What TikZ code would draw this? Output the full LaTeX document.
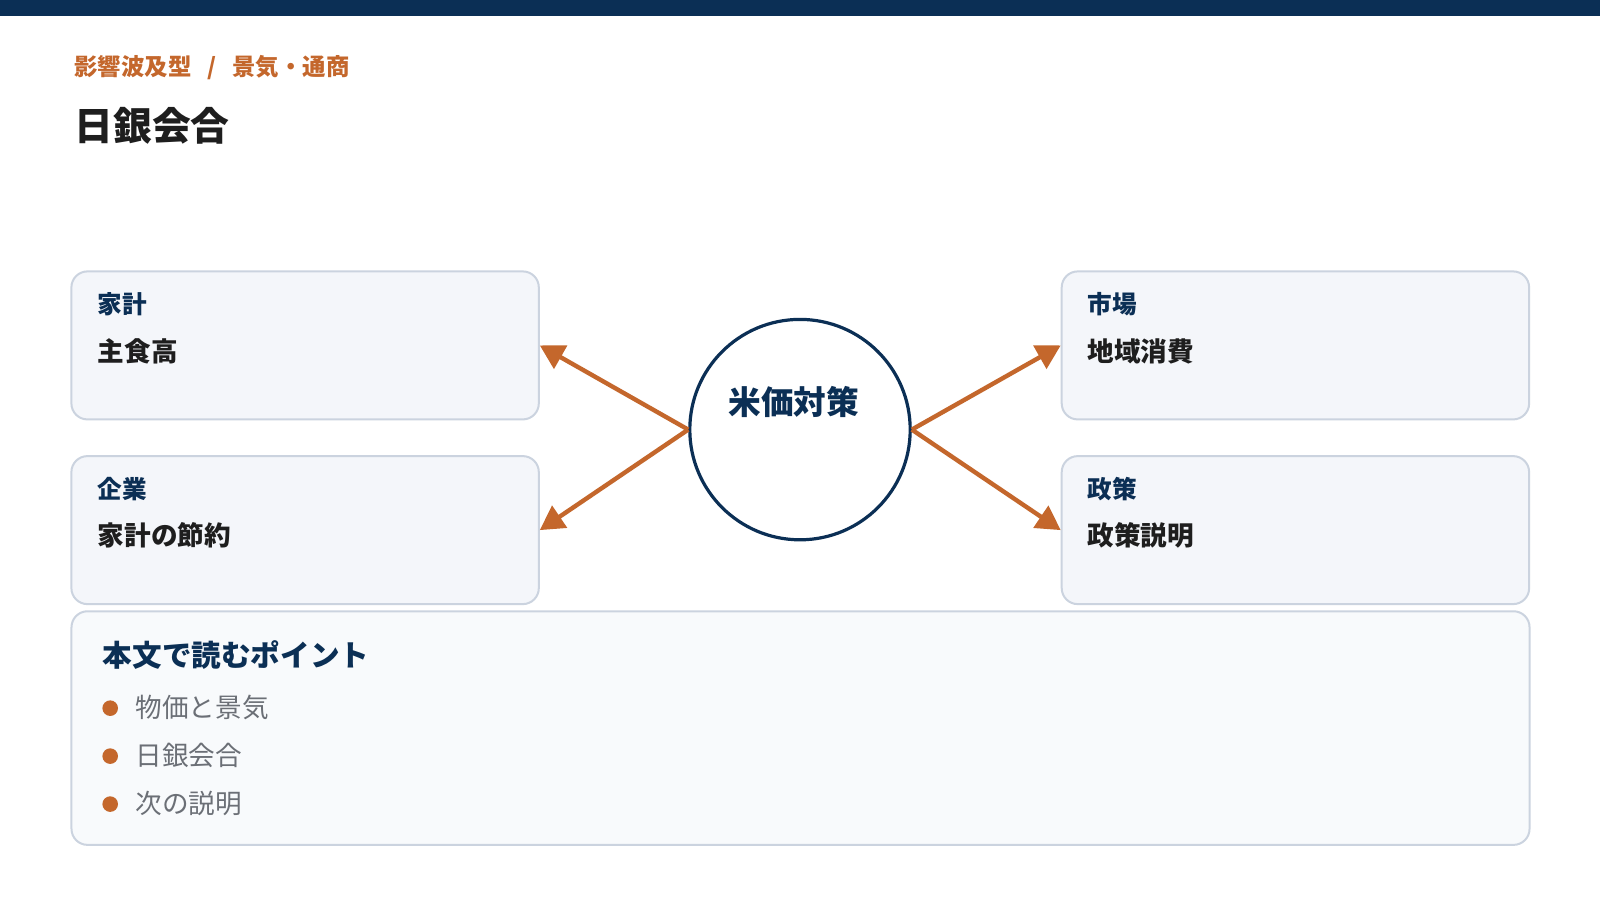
\documentclass[tikz,border=0pt]{standalone}
\usepackage{fontspec}
\setmainfont{Noto Sans CJK JP}
\usetikzlibrary{arrows.meta}
\definecolor{navy}{HTML}{0B2F55}
\definecolor{org}{HTML}{C4672C}
\definecolor{bfill}{HTML}{F4F6FA}
\definecolor{bline}{HTML}{CBD3DF}
\definecolor{gtext}{HTML}{6B6F76}
\definecolor{dtext}{HTML}{1E1E1E}
\begin{document}
\begin{tikzpicture}[x=0.5102pt,y=-0.5102pt,
  card/.style={draw=bline,line width=1pt,fill=bfill,rounded corners=8pt,minimum width=233.7pt,minimum height=74pt,inner sep=0pt},
  lab/.style={anchor=west,text=navy,font=\fontsize{12.3}{14}\selectfont\bfseries},
  body/.style={anchor=west,text=dtext,font=\fontsize{13.3}{15}\selectfont\bfseries},
  conn/.style={draw=org,line width=2.2pt,-{Triangle[length=12pt,width=13pt]}},
  pt/.style={anchor=west,text=gtext,font=\fontsize{13.3}{15}\selectfont}]
\fill[white] (0,0) rectangle (1568,882);
\useasboundingbox (0,0) rectangle (1568,882);
\fill[navy] (0,0) rectangle (1568,16);
\node[anchor=west,text=org,font=\fontsize{11.7}{14}\selectfont\bfseries] (bc) at (66,66) {影響波及型\hspace{8pt}/\hspace{8pt}景気・通商};
\node[anchor=west,text=dtext,font=\fontsize{19.4}{22}\selectfont\bfseries] (tt) at (66,123) {日銀会合};
\node[card] (b1) at (299,338.5) {};
\node[card] (b2) at (299,519.5) {};
\node[card] (b3) at (1269.5,338.5) {};
\node[card] (b4) at (1269.5,519.5) {};
\node[lab] (l1) at (89,298) {家計};
\node[body] (t1) at (89,344) {主食高};
\node[lab] (l2) at (89,479) {企業};
\node[body] (t2) at (89,525) {家計の節約};
\node[lab] (l3) at (1059,298) {市場};
\node[body] (t3) at (1059,344) {地域消費};
\node[lab] (l4) at (1059,479) {政策};
\node[body] (t4) at (1059,525) {政策説明};
\node[circle,draw=navy,line width=1.6pt,fill=white,minimum size=110.2pt,inner sep=0pt] (c) at (784,421) {};
\node[text=navy,font=\fontsize{16.3}{18}\selectfont\bfseries] (ct) at (778,394) {米価対策};
\draw[conn] (c.west) -- (b1.east);
\draw[conn] (c.west) -- (b2.east);
\draw[conn] (c.east) -- (b3.west);
\draw[conn] (c.east) -- (b4.west);
\node[draw=bline,line width=1pt,fill=bfill!60,rounded corners=8pt,minimum width=729pt,minimum height=116.8pt,inner sep=0pt] (pb) at (784.5,713.5) {};
\node[anchor=west,text=navy,font=\fontsize{14.8}{17}\selectfont\bfseries] (ph) at (94,642) {本文で読むポイント};
\fill[org] (108,694) circle (3.9pt);
\fill[org] (108,741) circle (3.9pt);
\fill[org] (108,788) circle (3.9pt);
\node[pt] (p1) at (126,693) {物価と景気};
\node[pt] (p2) at (126,740) {日銀会合};
\node[pt] (p3) at (126,787) {次の説明};
\end{tikzpicture}
\end{document}
